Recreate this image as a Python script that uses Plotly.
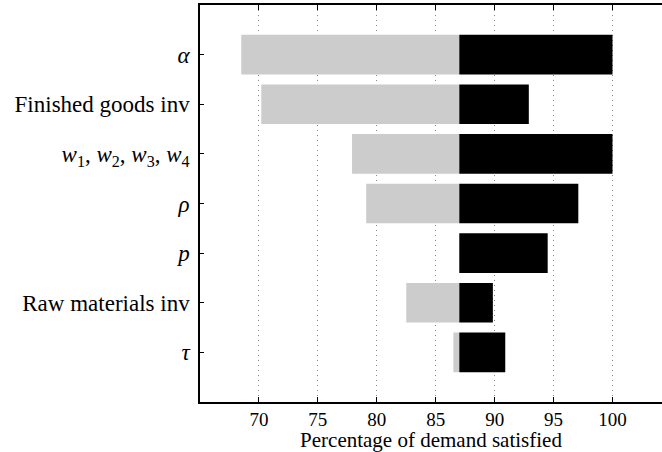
import plotly.graph_objects as go

# Sensitivity of demand satisfaction to each parameter (tornado chart)
parameters = [
    "<i>α</i>",
    "Finished goods inv",
    "<i>w</i><sub>1</sub>, <i>w</i><sub>2</sub>, <i>w</i><sub>3</sub>, <i>w</i><sub>4</sub>",
    "<i>ρ</i>",
    "<i>p</i>",
    "Raw materials inv",
    "<i>τ</i>",
]
low_values = [68.5, 70.2, 77.9, 79.1, 87.0, 82.5, 86.5]
high_values = [100.0, 92.9, 100.0, 97.1, 94.5, 89.85, 90.9]
baseline = 87.0
x_ticks = [70, 75, 80, 85, 90, 95, 100]

n = len(parameters)
ypos = [n - i for i in range(n)]  # top-to-bottom ordering

fig = go.Figure()
fig.add_trace(go.Bar(
    y=ypos, x=[v - baseline for v in low_values], base=baseline,
    orientation="h", width=0.8,
    marker=dict(color="#cccccc", line=dict(width=0)),
    showlegend=False, hoverinfo="skip",
))
fig.add_trace(go.Bar(
    y=ypos, x=[v - baseline for v in high_values], base=baseline,
    orientation="h", width=0.8,
    marker=dict(color="#000000", line=dict(width=0)),
    showlegend=False, hoverinfo="skip",
))

font_family = "Liberation Serif"

fig.update_layout(
    width=662, height=452,
    margin=dict(l=200, r=0, t=5, b=50),
    paper_bgcolor="white", plot_bgcolor="white",
    barmode="overlay",
    font=dict(family=font_family, size=20, color="black"),
    xaxis=dict(
        range=[65, 104.2],
        tickvals=x_ticks,
        ticktext=[str(t) for t in x_ticks],
        ticks="inside", ticklen=5, tickcolor="black", tickwidth=1,
        showline=True, linecolor="black", linewidth=1.5, mirror="allticks",
        showgrid=True, gridcolor="#888888", griddash="1px,4px", gridwidth=1,
        zeroline=False,
        tickfont=dict(family=font_family, size=19),
        ticklabelstandoff=-1,
        title=dict(text="Percentage of demand satisfied", standoff=3,
                   font=dict(family=font_family, size=21)),
    ),
    yaxis=dict(
        range=[0, n + 1],
        tickvals=ypos, ticktext=parameters,
        ticks="inside", ticklen=4, tickcolor="black", tickwidth=1,
        showline=True, linecolor="black", linewidth=1.5, mirror=False,
        showgrid=False, zeroline=False,
        tickfont=dict(family=font_family, size=23),
        ticklabelstandoff=4,
    ),
)

fig.write_html("out.html")
